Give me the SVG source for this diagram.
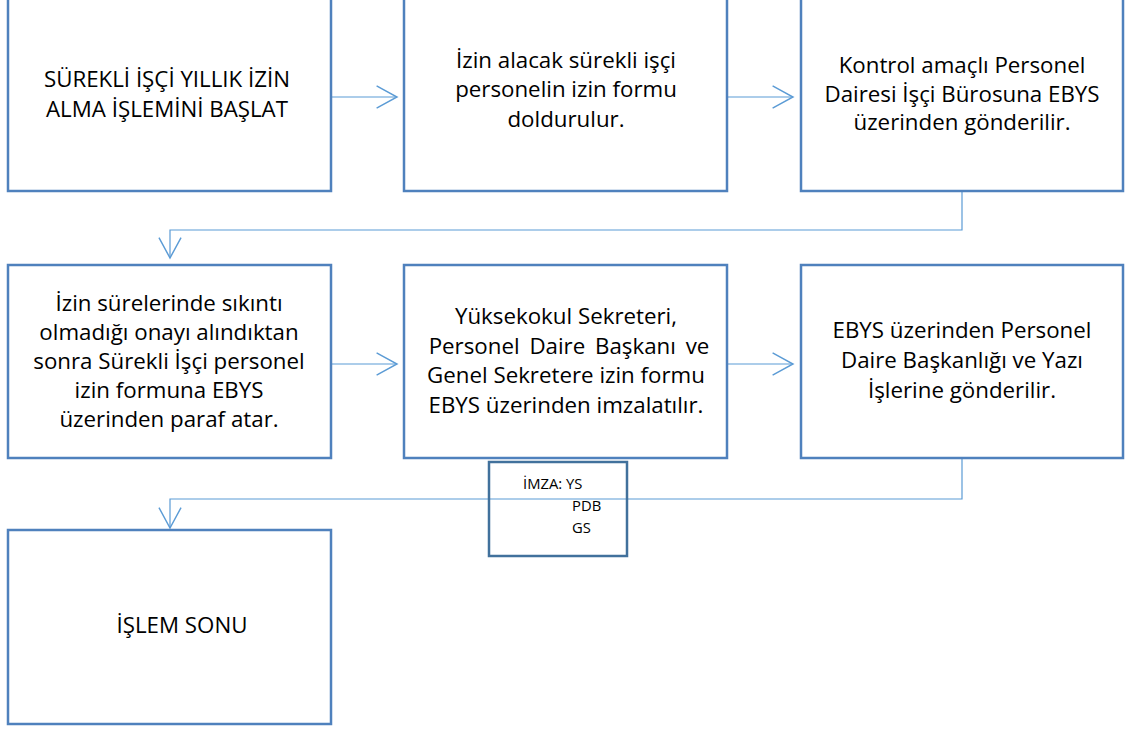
<svg xmlns="http://www.w3.org/2000/svg" width="1126" height="729" viewBox="0 0 1126 729">
<defs>
<style>
.box{fill:#ffffff;stroke:#4F81BD;stroke-width:2.5}
.sig{fill:none;stroke:#41719C;stroke-width:2.5}
.t{font-family:"Open Sans","Liberation Sans",sans-serif;font-size:22.3px;fill:#000;text-anchor:middle}
.s{font-family:"Open Sans","Liberation Sans",sans-serif;font-size:14.8px;fill:#000}
.c{fill:none;stroke:#5B9BD5;stroke-width:1.2}
</style>
<marker id="ah" markerUnits="userSpaceOnUse" markerWidth="24" markerHeight="24" refX="18" refY="10" orient="auto" viewBox="0 0 20 20">
<polyline points="1,0.8 18,10 1,19.2" fill="none" stroke="#5B9BD5" stroke-width="1.2"/>
</marker>
</defs>
<rect width="1126" height="729" fill="#ffffff"/>
<g id="connectors">
<line class="c" x1="331" y1="97" x2="397" y2="97" marker-end="url(#ah)"/>
<line class="c" x1="727" y1="97" x2="793" y2="97" marker-end="url(#ah)"/>
<polyline class="c" points="962,192 962,230 170,230 170,258" marker-end="url(#ah)"/>
<line class="c" x1="331" y1="364" x2="397" y2="364" marker-end="url(#ah)"/>
<line class="c" x1="727" y1="364" x2="793" y2="364" marker-end="url(#ah)"/>
<polyline class="c" points="962,458 962,499 170,499 170,528" marker-end="url(#ah)"/>
</g>
<g id="n1">
<rect class="box" x="8" y="-5" width="323" height="196"/>
<text class="t" x="167" y="87">SÜREKLİ İŞÇİ YILLIK İZİN</text>
<text class="t" x="167" y="117">ALMA İŞLEMİNİ BAŞLAT</text>
</g>
<g id="n2">
<rect class="box" x="404" y="-5" width="323" height="196"/>
<text class="t" x="566" y="68">İzin alacak sürekli işçi</text>
<text class="t" x="566" y="97">personelin izin formu</text>
<text class="t" x="566" y="127">doldurulur.</text>
</g>
<g id="n3">
<rect class="box" x="801" y="-5" width="322" height="196"/>
<text class="t" x="962" y="73">Kontrol amaçlı Personel</text>
<text class="t" x="962" y="102">Dairesi İşçi Bürosuna EBYS</text>
<text class="t" x="962" y="130">üzerinden gönderilir.</text>
</g>
<g id="n4">
<rect class="box" x="8" y="265" width="323" height="193"/>
<text class="t" x="169" y="311">İzin sürelerinde sıkıntı</text>
<text class="t" x="169" y="340">olmadığı onayı alındıktan</text>
<text class="t" x="169" y="369">sonra Sürekli İşçi personel</text>
<text class="t" x="169" y="398">izin formuna EBYS</text>
<text class="t" x="169" y="427">üzerinden paraf atar.</text>
</g>
<g id="n5">
<rect class="box" x="404" y="265" width="323" height="193"/>
<text class="t" x="566" y="324">Yüksekokul Sekreteri,</text>
<text class="t" x="569" y="354" word-spacing="4">Personel Daire Başkanı ve</text>
<text class="t" x="566" y="383">Genel Sekretere izin formu</text>
<text class="t" x="566" y="413">EBYS üzerinden imzalatılır.</text>
</g>
<g id="n6">
<rect class="box" x="801" y="265" width="322" height="193"/>
<text class="t" x="962" y="338">EBYS üzerinden Personel</text>
<text class="t" x="962" y="368">Daire Başkanlığı ve Yazı</text>
<text class="t" x="962" y="398">İşlerine gönderilir.</text>
</g>
<g id="n7">
<rect class="sig" x="489" y="462" width="138" height="94"/>
<text class="s" x="523" y="489">İMZA: YS</text>
<text class="s" x="572" y="511">PDB</text>
<text class="s" x="572" y="533">GS</text>
</g>
<g id="n8">
<rect class="box" x="8" y="530" width="323" height="194"/>
<text class="t" x="182" y="633">İŞLEM SONU</text>
</g>
</svg>
